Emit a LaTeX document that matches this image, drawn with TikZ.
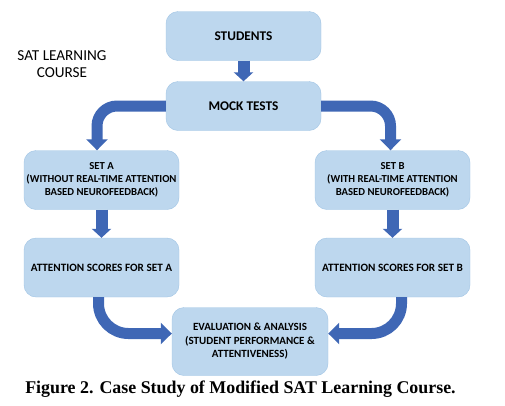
\documentclass[tikz,border=0pt]{standalone}
\usepackage{fontspec}
\setmainfont{Liberation Serif}
\newfontfamily\boxfont{Carlito}
\usetikzlibrary{arrows.meta,positioning}

\definecolor{boxfill}{RGB}{189,215,238}
\definecolor{boxline}{RGB}{160,196,228}
\definecolor{arrowblue}{RGB}{63,103,181}

\tikzset{
	stepbox/.style={draw=boxline, fill=boxfill, rounded corners=12pt, minimum width=155pt, align=center, font=\boxfont\bfseries, inner sep=0pt},
	bigarrow/.style={draw=arrowblue, line width=11pt, rounded corners=20pt, -{Triangle[width=21pt,length=11pt]}},
	smallarrow/.style={draw=arrowblue, line width=12pt, -{Triangle[width=19pt,length=9pt]}}
}

\begin{document}
\begin{tikzpicture}[x=1pt,y=1pt]
	\useasboundingbox (0,0) rectangle (505,-405);
	% boxes
	\node[stepbox, minimum height=49pt, font=\boxfont\bfseries\fontsize{13.3}{15}\selectfont] (students) at (243.5,-36) {STUDENTS};
	\node[stepbox, minimum height=49pt, font=\boxfont\bfseries\fontsize{13.3}{15}\selectfont] (mock) at (243.5,-106) {MOCK TESTS};
	\node[stepbox, minimum height=59pt, font=\boxfont\bfseries\fontsize{10.7}{13}\selectfont] (seta) at (101.5,-180) {SET A\\(WITHOUT REAL-TIME ATTENTION\\BASED NEUROFEEDBACK)};
	\node[stepbox, minimum height=59pt, font=\boxfont\bfseries\fontsize{10.7}{13}\selectfont] (setb) at (392.5,-180) {SET B\\(WITH REAL-TIME ATTENTION\\BASED NEUROFEEDBACK)};
	\node[stepbox, minimum height=59pt, font=\boxfont\bfseries\fontsize{11.2}{13}\selectfont] (atta) at (101.5,-267.5) {ATTENTION SCORES FOR SET A};
	\node[stepbox, minimum height=59pt, font=\boxfont\bfseries\fontsize{11.2}{13}\selectfont] (attb) at (392.5,-267.5) {ATTENTION SCORES FOR SET B};
	\node[stepbox, minimum width=156pt, minimum height=68pt, font=\boxfont\bfseries\fontsize{11}{13.5}\selectfont] (eval) at (250,-341.5) {EVALUATION \& ANALYSIS\\(STUDENT PERFORMANCE \&\\ATTENTIVENESS)};
	\node[align=center, font=\boxfont\fontsize{15.2}{17}\selectfont] (course) at (62,-64) {SAT LEARNING\\COURSE};
	% arrows
	\draw[smallarrow] (students.south) -- (mock.north);
	\draw[smallarrow] (seta.south) -- (atta.north);
	\draw[smallarrow] (setb.south) -- (attb.north);
	\draw[bigarrow] (mock.west) -| ([xshift=-4.5pt]seta.north);
	\draw[bigarrow] (mock.east) -| ([xshift=-2pt]setb.north);
	\draw[bigarrow, rounded corners=30pt] ([xshift=-3pt]atta.south) |- ([yshift=8pt]eval.west);
	\draw[bigarrow, rounded corners=30pt] ([xshift=9pt]attb.south) |- ([yshift=8pt]eval.east);
	% caption
	\node[font=\bfseries\fontsize{17.9}{20}\selectfont] (caption) at (240.5,-389) {Figure 2. Case Study of Modified SAT Learning Course.};
\end{tikzpicture}
\end{document}
